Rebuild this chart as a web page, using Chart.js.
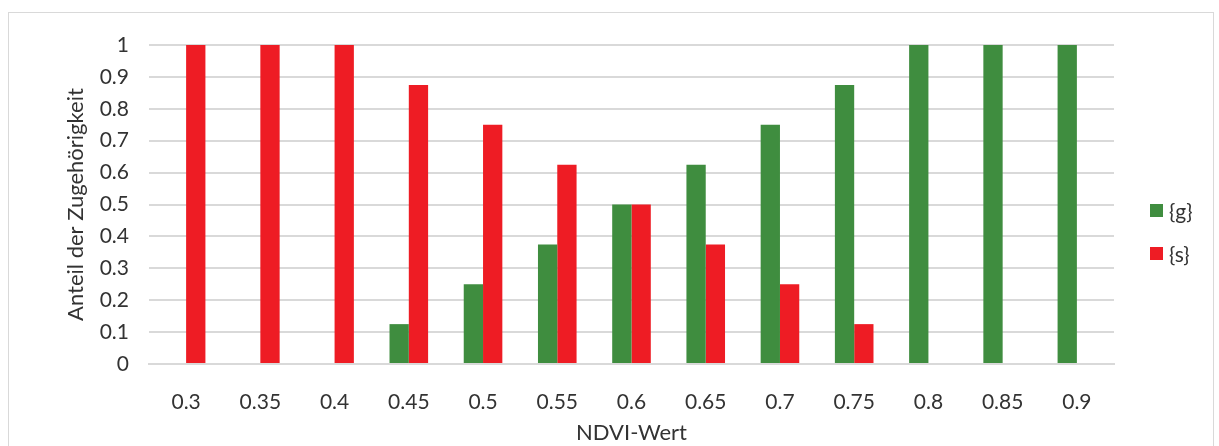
<!DOCTYPE html>
<html lang="de">
<head>
  <meta charset="UTF-8" />
  <title>NDVI Zugehörigkeit</title>
  <script src="https://cdn.jsdelivr.net/npm/chart.js"></script>
  <style>
    body {
      margin: 0;
      background: #fff;
      font-family: Lato, 'Open Sans', sans-serif;
      overflow: hidden;
    }
    .frame {
      position: absolute;
      left: 8px;
      top: 12px;
      width: 1204px;
      height: 450px;
      border: 1px solid #d9d9d9;
    }
    #wrap {
      position: absolute;
      left: 0;
      top: 0;
      width: 1219px;
      height: 446px;
    }
    .legend {
      position: absolute;
      left: 1150px;
      top: 198px;
      color: #333;
      font-size: 21px;
    }
    .legend div {
      display: flex;
      align-items: center;
      height: 24px;
      margin-bottom: 19px;
    }
    .legend span.box {
      width: 13px;
      height: 13px;
      margin-right: 6px;
    }
  </style>
</head>
<body>
  <div class="frame"></div>
  <div id="wrap"><canvas id="chart"></canvas></div>
  <div class="legend">
    <div><span class="box" style="background:#3f8d3f"></span>{g}</div>
    <div><span class="box" style="background:#ee1c24"></span>{s}</div>
  </div>

  <script>
    const categories = ['0.3', '0.35', '0.4', '0.45', '0.5', '0.55', '0.6', '0.65', '0.7', '0.75', '0.8', '0.85', '0.9'];
    const gValues = [0, 0, 0, 0.125, 0.25, 0.375, 0.5, 0.625, 0.75, 0.875, 1, 1, 1];
    const sValues = [1, 1, 1, 0.875, 0.75, 0.625, 0.5, 0.375, 0.25, 0.125, 0, 0, 0];
    const yTickLabels = ['0', '0.1', '0.2', '0.3', '0.4', '0.5', '0.6', '0.7', '0.8', '0.9', '1'];

    const textColor = '#333';
    const fontFamily = "Lato, 'Open Sans', sans-serif";

    new Chart(document.getElementById('chart'), {
      type: 'bar',
      data: {
        labels: categories,
        datasets: [
          { label: '{g}', data: gValues, backgroundColor: '#3f8d3f' },
          { label: '{s}', data: sValues, backgroundColor: '#ee1c24' }
        ]
      },
      options: {
        responsive: true,
        maintainAspectRatio: false,
        animation: false,
        layout: { padding: { top: 45, right: 105, left: 63, bottom: 0 } },
        datasets: { bar: { barPercentage: 1, categoryPercentage: 0.52 } },
        plugins: {
          legend: { display: false },
          tooltip: { enabled: false }
        },
        scales: {
          x: {
            grid: { display: false },
            border: { color: '#d9d9d9', width: 2 },
            ticks: { color: textColor, font: { family: fontFamily, size: 21 }, padding: 18, maxRotation: 0 },
            title: {
              display: true,
              text: 'NDVI-Wert',
              color: textColor,
              font: { family: fontFamily, size: 22 },
              padding: { top: 4, bottom: 0 }
            },
            afterFit: (scale) => { scale.height = 82; }
          },
          y: {
            min: 0,
            max: 1,
            grid: { color: '#d9d9d9', lineWidth: 2, drawTicks: false },
            border: { display: false },
            ticks: {
              stepSize: 0.1,
              color: textColor,
              font: { family: fontFamily, size: 21 },
              padding: 20,
              callback: (v, i) => yTickLabels[i]
            },
            title: {
              display: true,
              text: 'Anteil der Zugehörigkeit',
              color: textColor,
              font: { family: fontFamily, size: 22 },
              padding: { top: 0, bottom: 0 }
            },
            afterFit: (scale) => { scale.width = 86; }
          }
        }
      }
    });
  </script>
</body>
</html>
